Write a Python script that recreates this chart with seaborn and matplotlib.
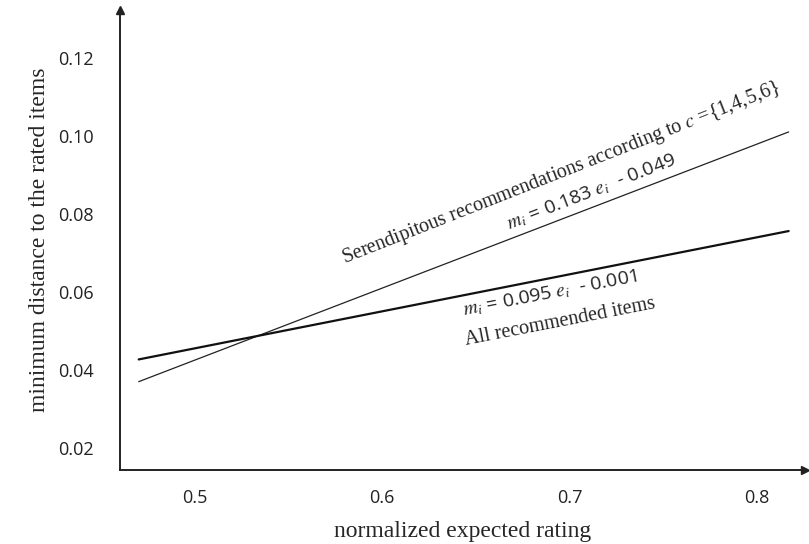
import numpy as np
import pandas as pd
import seaborn as sns
import matplotlib.pyplot as plt

# regression lines (endpoints)
rating = [0.47, 0.817]
serendipitous = [0.037, 0.101]
all_items = [0.0427, 0.0756]

x_ticks = [0.5, 0.6, 0.7, 0.8]
y_ticks = [0.02, 0.04, 0.06, 0.08, 0.10, 0.12]

df = pd.DataFrame({
    'rating': rating * 2,
    'distance': serendipitous + all_items,
    'group': ['serendipitous'] * 2 + ['all'] * 2,
})

sns.set_style("white")
plt.rcParams['font.family'] = ['Open Sans', 'DejaVu Sans']
plt.rcParams['mathtext.fontset'] = 'stix'

fig = plt.figure(figsize=(8.09, 5.44), dpi=100)
ax = fig.add_axes([0.1483, 0.136, 0.8467, 0.846])

sns.lineplot(data=df[df.group == 'serendipitous'], x='rating', y='distance',
             color='#222222', linewidth=0.9, ax=ax)
sns.lineplot(data=df[df.group == 'all'], x='rating', y='distance',
             color='#111111', linewidth=1.6, ax=ax)

ax.set_xlim(0.46, 0.8257)
ax.set_ylim(0.01436, 0.1323)
ax.set_xticks(x_ticks)
ax.set_xticklabels([f'{v:.1f}' for v in x_ticks])
ax.set_yticks(y_ticks)
ax.set_yticklabels([f'{v:.2f}' for v in y_ticks])
ax.tick_params(axis='both', length=0, labelsize=13, colors='#222222')
ax.tick_params(axis='y', pad=19)
ax.tick_params(axis='x', pad=14)

for side in ['top', 'right']:
    ax.spines[side].set_visible(False)
for side in ['left', 'bottom']:
    ax.spines[side].set_color('#222222')
    ax.spines[side].set_linewidth(1.4)
ax.plot(1, 0, '>', color='#222222', ms=6, transform=ax.transAxes, clip_on=False)
ax.plot(0, 1, '^', color='#222222', ms=6, transform=ax.transAxes, clip_on=False)

serif = ['Liberation Serif', 'DejaVu Serif']
ax.set_xlabel('normalized expected rating', family=serif, fontsize=17, labelpad=10)
ax.set_ylabel('minimum distance to the rated items', family=serif, fontsize=17, labelpad=6)

ax.text(0.6955, 0.0903, r'Serendipitous recommendations according to $c$ ={1,4,5,6}',
        family=serif, fontsize=14.5, rotation=21.5, rotation_mode='anchor',
        ha='center', va='center')
ax.text(0.7115, 0.0856, r'$m_i$ = 0.183 $e_i$  - 0.049',
        fontsize=14, rotation=21.3, rotation_mode='anchor',
        ha='center', va='center')
ax.text(0.6896, 0.0595, r'$m_i$ = 0.095 $e_i$  - 0.001',
        fontsize=14, rotation=11, rotation_mode='anchor',
        ha='center', va='center')
ax.text(0.6949, 0.0523, 'All recommended items',
        family=serif, fontsize=14.5, rotation=11, rotation_mode='anchor',
        ha='center', va='center')

fig.savefig('out.png', dpi=100)
